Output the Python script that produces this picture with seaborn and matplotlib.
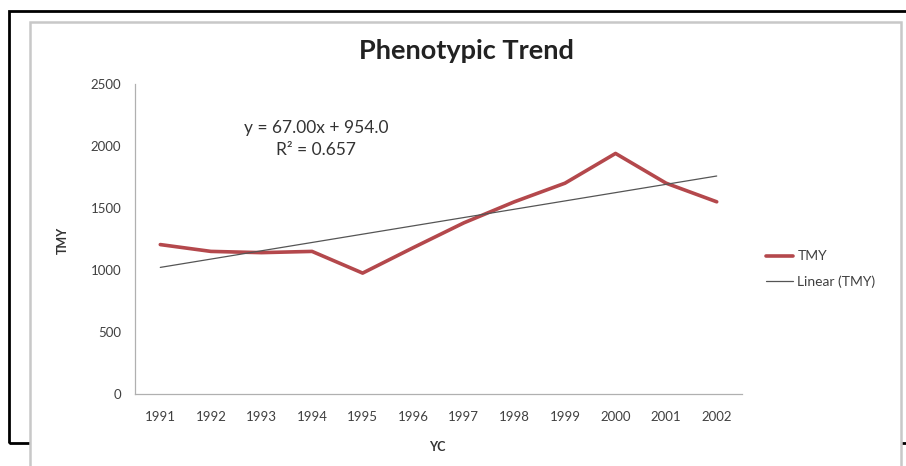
import matplotlib
matplotlib.use("Agg")
import matplotlib.pyplot as plt
from matplotlib.patches import Rectangle
import seaborn as sns
import pandas as pd
import numpy as np

years = ["1991", "1992", "1993", "1994", "1995", "1996", "1997", "1998", "1999", "2000", "2001", "2002"]
tmy = [1205, 1150, 1140, 1150, 975, 1180, 1380, 1550, 1700, 1940, 1700, 1550]
slope = 67.00
intercept = 954.0
r2 = 0.657
y_ticks = [0, 500, 1000, 1500, 2000, 2500]

sns.set_theme(style="white")
plt.rcParams['font.family'] = ['Lato', 'DejaVu Sans']

W, H = 906, 466
fig = plt.figure(figsize=(W / 100, H / 100), dpi=100)
fig.patch.set_facecolor("white")

# outer black frame
fig.add_artist(Rectangle((9 / W, 1 - 443 / H), 1.2, (443 - 11) / H, transform=fig.transFigure,
                         fill=False, edgecolor="black", linewidth=2, zorder=0))
# inner chart area with soft grey border
fig.add_artist(Rectangle((30 / W, -0.1), (901 - 30) / W, 0.1 + 1 - 22 / H, transform=fig.transFigure,
                         facecolor="white", edgecolor="#c8c8c8", linewidth=1.8, zorder=1))

ax = fig.add_axes([135 / W, 72 / H, (742 - 135) / W, (394 - 84) / H])
ax.set_zorder(2)
ax.patch.set_alpha(0)

xs = np.arange(len(years))
df = pd.DataFrame({"x": xs, "TMY": tmy, "trend": intercept + slope * (xs + 1)})

sns.lineplot(data=df, x="x", y="TMY", ax=ax, color="#b4484c", linewidth=2.6, label="TMY")
sns.lineplot(data=df, x="x", y="trend", ax=ax, color="#555555", linewidth=0.9, label="Linear (TMY)")

ax.set_xlim(-0.5, len(years) - 0.5)
ax.set_ylim(0, 2500)
ax.set_yticks(y_ticks)
ax.set_yticklabels([str(v) for v in y_ticks], fontsize=9.5, color="#404040")
ax.set_xticks(xs)
ax.set_xticklabels(years, fontsize=9.5, color="#404040")
ax.set_xticks(np.arange(-0.5, len(years), 1.0), minor=True)
ax.tick_params(axis="x", which="major", length=0, pad=12)
ax.tick_params(axis="x", which="minor", length=4, width=0.8, color="#b0b0b0", direction="out")
ax.tick_params(axis="y", which="major", length=4, width=0.8, color="#b0b0b0", direction="out", pad=6)

for s in ["top", "right"]:
    ax.spines[s].set_visible(False)
for s in ["left", "bottom"]:
    ax.spines[s].set_color("#b0b0b0")
    ax.spines[s].set_linewidth(0.9)

ax.set_xlabel("")
ax.set_ylabel("")
fig.text(437 / W, 1 - 447 / H, "YC", ha="center", va="center", fontsize=9, fontweight="bold", color="#333333")
fig.text(63 / W, 1 - 240 / H, "TMY", ha="center", va="center", rotation=90, fontsize=9,
         fontweight="bold", color="#333333")
fig.text(466 / W, 1 - 51 / H, "Phenotypic Trend", ha="center", va="center", fontsize=19.5,
         fontweight="bold", color="#222222")
fig.text(316 / W, 1 - 139 / H, f"y = {slope:.2f}x + {intercept:.1f}\nR² = {r2:.3f}", ha="center",
         va="center", fontsize=12.5, color="#333333", linespacing=1.45)

ax.get_legend().remove()
handles, labels = ax.get_legend_handles_labels()
fig.legend(handles, labels, loc="center left", bbox_to_anchor=(753 / W, 1 - 269 / H), frameon=False,
           fontsize=10, handlelength=2.0, handletextpad=0.3, labelspacing=0.9, labelcolor="#404040")

fig.savefig("out.png", dpi=100)
